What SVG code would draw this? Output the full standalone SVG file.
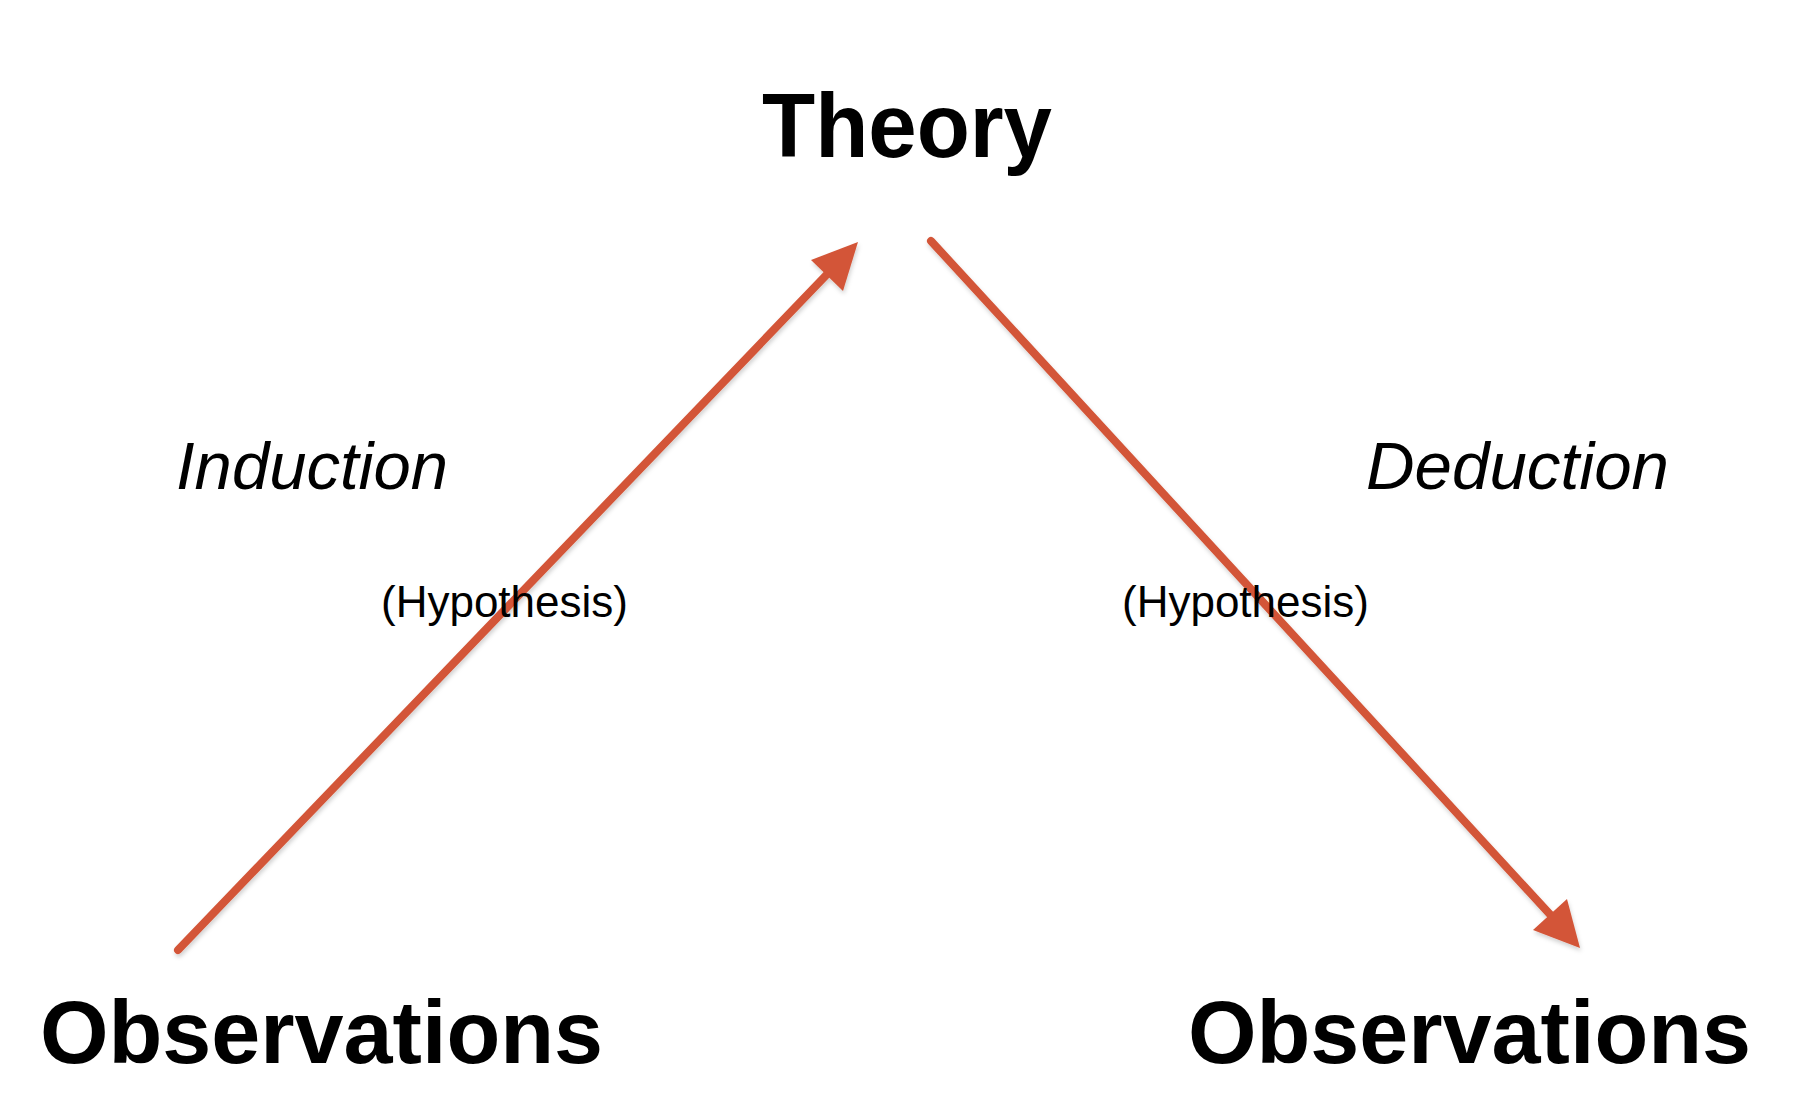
<svg xmlns="http://www.w3.org/2000/svg" width="1796" height="1118" viewBox="0 0 1796 1118">
  <style>
    .title { font-family: "Liberation Sans", Arial, sans-serif; font-weight: bold; fill: #000; }
    .label { font-family: "Liberation Sans", Arial, sans-serif; font-style: italic; font-size: 67px; fill: #000; }
    .hyp { font-family: "Liberation Sans", Arial, sans-serif; font-size: 44px; fill: #000; }
    .conn { stroke: #D35537; stroke-width: 8; stroke-linecap: round; fill: none; }
    .head { fill: #D35537; }
  </style>
  <defs>
    <filter id="shadow" x="-10%" y="-10%" width="120%" height="120%">
      <feDropShadow dx="1" dy="3" stdDeviation="2" flood-color="#000" flood-opacity="0.18"/>
    </filter>
  </defs>
  <rect width="1796" height="1118" fill="#fff"/>

  <g id="connectors" filter="url(#shadow)">
    <g id="induction-arrow">
      <line class="conn" x1="178" y1="950" x2="835" y2="266"/>
      <polygon class="head" points="858,242 811,260 843,291"/>
    </g>
    <g id="deduction-arrow">
      <line class="conn" x1="931" y1="241" x2="1557" y2="922"/>
      <polygon class="head" points="1580,948 1533,930 1567,899"/>
    </g>
  </g>

  <g id="theory">
    <text class="title" x="762" y="157" font-size="91" textLength="290" lengthAdjust="spacingAndGlyphs">Theory</text>
  </g>
  <g id="observations-left">
    <text class="title" x="40" y="1063" font-size="89" textLength="563" lengthAdjust="spacingAndGlyphs">Observations</text>
  </g>
  <g id="observations-right">
    <text class="title" x="1188" y="1063" font-size="89" textLength="563" lengthAdjust="spacingAndGlyphs">Observations</text>
  </g>
  <g id="induction-label">
    <text class="label" x="176" y="489">Induction</text>
  </g>
  <g id="deduction-label">
    <text class="label" x="1366" y="489" textLength="303" lengthAdjust="spacingAndGlyphs">Deduction</text>
  </g>
  <g id="hypothesis-left">
    <text class="hyp" x="381" y="617">(Hypothesis)</text>
  </g>
  <g id="hypothesis-right">
    <text class="hyp" x="1122" y="617">(Hypothesis)</text>
  </g>
</svg>
